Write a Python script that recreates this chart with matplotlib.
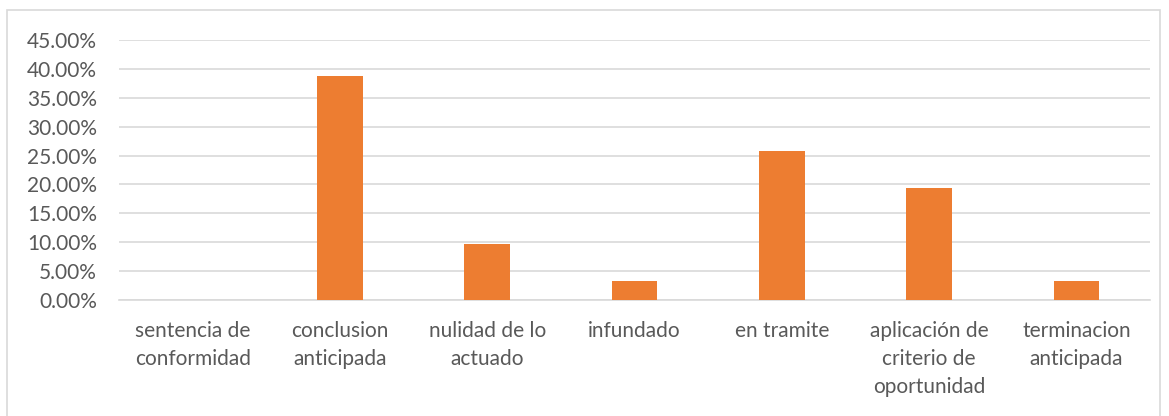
import matplotlib
matplotlib.use("Agg")
from matplotlib import pyplot as plt
from matplotlib.patches import Rectangle
from matplotlib.ticker import MultipleLocator, FuncFormatter

categorias = ["sentencia de\nconformidad", "conclusion\nanticipada", "nulidad de lo\nactuado",
              "infundado", "en tramite", "aplicación de\ncriterio de\noportunidad",
              "terminacion\nanticipada"]
porcentajes = [0.0, 38.71, 9.68, 3.23, 25.81, 19.35, 3.23]

plt.rcParams['font.family'] = ['Lato', 'DejaVu Sans']
gris = '#595959'

fig = plt.figure(figsize=(11.69, 4.16), dpi=100)
ax = fig.add_axes([119 / 1169, 1 - 300 / 416, 1031 / 1169, 260 / 416])

x = range(len(categorias))
ax.bar(x, porcentajes, width=0.31, color='#ed7d31', zorder=3)

ax.set_xlim(-0.5, len(categorias) - 0.5)
ax.set_ylim(0, 45)
ax.yaxis.set_major_locator(MultipleLocator(5))
ax.yaxis.set_major_formatter(FuncFormatter(lambda v, p: f"{v:.2f}%"))
ax.grid(axis='y', color='#d9d9d9', linewidth=1.2, zorder=0)

ax.set_xticks(list(x))
ax.set_xticklabels(categorias, linespacing=1.5, va='top')
ax.tick_params(axis='both', length=0, labelsize=15, labelcolor=gris)
ax.tick_params(axis='x', pad=15)
ax.tick_params(axis='y', pad=16)

for s in ['top', 'right', 'left']:
    ax.spines[s].set_visible(False)
ax.spines['bottom'].set_color('#d9d9d9')
ax.spines['bottom'].set_linewidth(1.2)

# borde del grafico
fig.patches.append(Rectangle((7 / 1169, -0.1), 1153 / 1169, 1 - 10 / 416 + 0.1,
                             transform=fig.transFigure, fill=False,
                             edgecolor='#d9d9d9', linewidth=1.2))

fig.savefig('out.png', dpi=100)
